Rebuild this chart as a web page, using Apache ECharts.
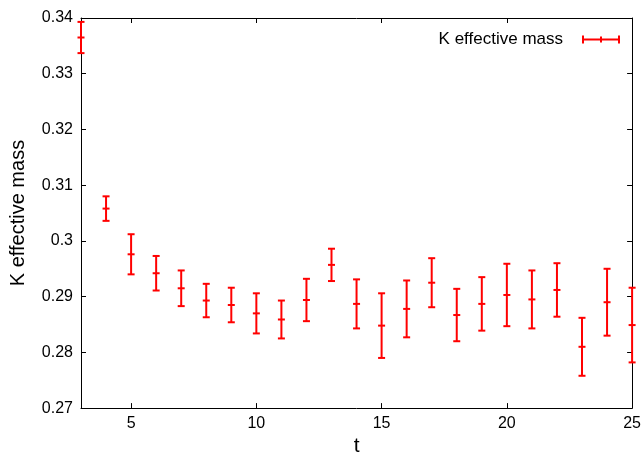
<!DOCTYPE html>
<html>
<head>
<meta charset="utf-8">
<script src="https://cdn.jsdelivr.net/npm/echarts@6/dist/echarts.min.js"></script>
<style>
  html, body { margin: 0; padding: 0; background: #fff; }
  #chart { width: 644px; height: 462px; }
</style>
</head>
<body>
<div id="chart"></div>
<script>
// ---- data ----
var tValues = [3, 4, 5, 6, 7, 8, 9, 10, 11, 12, 13, 14, 15, 16, 17, 18, 19, 20, 21, 22, 23, 24, 25];
var massValues = [0.3365, 0.3058, 0.2976, 0.2942, 0.2915, 0.2893, 0.2885, 0.2870, 0.2859, 0.2894, 0.2957, 0.2887, 0.2848, 0.2878, 0.2925, 0.2867, 0.2887, 0.2903, 0.2895, 0.2912, 0.2810, 0.2890, 0.2849];
var massErrors = [0.0028, 0.0022, 0.0036, 0.0031, 0.0032, 0.0030, 0.0031, 0.0036, 0.0034, 0.0038, 0.0029, 0.0044, 0.0058, 0.0051, 0.0044, 0.0047, 0.0048, 0.0056, 0.0052, 0.0048, 0.0052, 0.0060, 0.0067];
var xTicks = [5, 10, 15, 20, 25];
var seriesName = 'K effective mass';

var errData = tValues.map(function (t, i) {
  return [t, massValues[i], massValues[i] - massErrors[i], massValues[i] + massErrors[i]];
});

var FONT = '"Liberation Sans", Arial, Helvetica, sans-serif';
var RED = '#ff0000';

function renderErr(params, api) {
  var x = api.value(0);
  var c = api.coord([x, api.value(1)]);
  var lo = api.coord([x, api.value(2)]);
  var hi = api.coord([x, api.value(3)]);
  var hw = 3.5;
  var st = { stroke: RED, lineWidth: 2 };
  return {
    type: 'group',
    children: [
      { type: 'line', shape: { x1: c[0], y1: hi[1], x2: c[0], y2: lo[1] }, style: st },
      { type: 'line', shape: { x1: c[0] - hw, y1: hi[1], x2: c[0] + hw, y2: hi[1] }, style: st },
      { type: 'line', shape: { x1: c[0] - hw, y1: lo[1], x2: c[0] + hw, y2: lo[1] }, style: st },
      { type: 'line', shape: { x1: c[0] - hw, y1: c[1], x2: c[0] + hw, y2: c[1] }, style: st }
    ]
  };
}

var axisLineStyle = { color: '#000', width: 1 };
var tickStyle = { show: true, inside: true, length: 5, lineStyle: { color: '#000', width: 1 } };

var chart = echarts.init(document.getElementById('chart'), null, { renderer: 'canvas' });
chart.setOption({
  animation: false,
  backgroundColor: '#fff',
  textStyle: { fontFamily: FONT },
  grid: { left: 79, right: 10, top: 18, bottom: 48, containLabel: false },
  legend: {
    show: true,
    data: [seriesName],
    right: 24,
    top: 31,
    padding: 0,
    align: 'right',
    itemWidth: 38,
    itemHeight: 8,
    icon: 'path://M0,0h2v8h-2z M36,0h2v8h-2z M0,3h38v2h-38z M18,1h2v6h-2z',
    itemStyle: { color: RED },
    textStyle: { fontFamily: FONT, fontSize: 17, color: '#000', padding: [0, 14, 0, 0] }
  },
  xAxis: [
    {
      type: 'value', min: 3, max: 25, position: 'bottom',
      name: 't', nameLocation: 'middle', nameGap: 24,
      nameTextStyle: { fontFamily: FONT, fontSize: 21, color: '#000' },
      axisLine: { show: true, onZero: false, lineStyle: axisLineStyle },
      axisTick: Object.assign({ customValues: xTicks }, tickStyle),
      axisLabel: { customValues: xTicks, fontFamily: FONT, fontSize: 16, color: '#000', margin: 7, showMinLabel: true, showMaxLabel: true },
      splitLine: { show: false }
    },
    {
      type: 'value', min: 3, max: 25, position: 'top',
      axisLine: { show: true, onZero: false, lineStyle: axisLineStyle },
      axisTick: Object.assign({ customValues: xTicks }, tickStyle),
      axisLabel: { show: false },
      splitLine: { show: false }
    }
  ],
  yAxis: [
    {
      type: 'value', min: 0.27, max: 0.34, interval: 0.01, position: 'left',
      name: 'K effective mass', nameLocation: 'middle', nameGap: 53,
      nameTextStyle: { fontFamily: FONT, fontSize: 20, color: '#000' },
      axisLine: { show: true, onZero: false, lineStyle: axisLineStyle },
      axisTick: tickStyle,
      axisLabel: { fontFamily: FONT, fontSize: 16, color: '#000', margin: 8 },
      splitLine: { show: false }
    },
    {
      type: 'value', min: 0.27, max: 0.34, interval: 0.01, position: 'right',
      axisLine: { show: true, onZero: false, lineStyle: axisLineStyle },
      axisTick: tickStyle,
      axisLabel: { show: false },
      splitLine: { show: false }
    }
  ],
  series: [
    {
      name: seriesName,
      type: 'custom',
      xAxisIndex: 0,
      yAxisIndex: 0,
      itemStyle: { color: RED },
      renderItem: renderErr,
      encode: { x: 0, y: [1, 2, 3] },
      clip: false,
      data: errData,
      z: 10
    }
  ]
});
</script>
</body>
</html>
